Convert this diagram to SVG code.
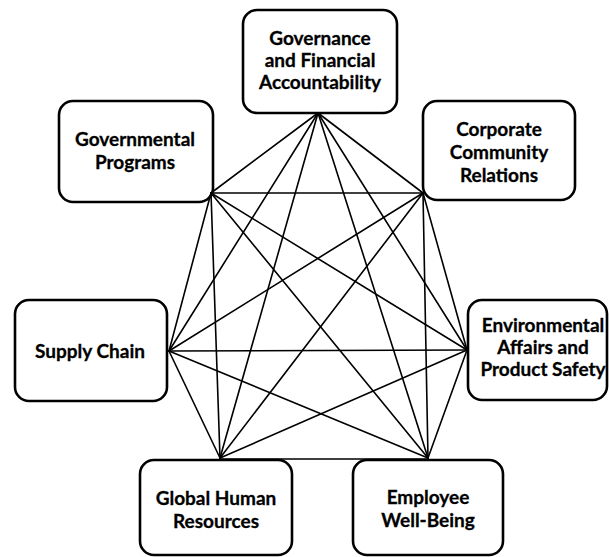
<svg xmlns="http://www.w3.org/2000/svg" width="609" height="557" viewBox="0 0 609 557">
  <style>
    .box { fill: #ffffff; stroke: #000000; stroke-width: 2.6; }
    .label { font-family: Lato, "Open Sans", sans-serif; font-weight: bold; font-size: 19px; fill: #000000; stroke: #000000; stroke-width: 0.3; text-anchor: middle; }
    .link { stroke: #000000; stroke-width: 1.6; fill: none; stroke-linecap: round; }
  </style>
  <rect x="0" y="0" width="609" height="557" fill="#ffffff"/>

  <!-- nodes -->
  <g id="governance">
    <rect class="box" x="243" y="10" width="154" height="103" rx="14"/>
    <text class="label" x="320" y="45">Governance</text>
    <text class="label" x="320" y="67">and Financial</text>
    <text class="label" x="320" y="89">Accountability</text>
  </g>
  <g id="governmental-programs">
    <rect class="box" x="59" y="101" width="154" height="101" rx="14"/>
    <text class="label" x="135" y="146">Governmental</text>
    <text class="label" x="135" y="169">Programs</text>
  </g>
  <g id="corporate-community">
    <rect class="box" x="423" y="101" width="152" height="99" rx="14"/>
    <text class="label" x="499" y="136">Corporate</text>
    <text class="label" x="499" y="159">Community</text>
    <text class="label" x="499" y="182">Relations</text>
  </g>
  <g id="supply-chain">
    <rect class="box" x="15" y="300" width="152" height="101" rx="14"/>
    <text class="label" x="90" y="358">Supply Chain</text>
  </g>
  <g id="environmental">
    <rect class="box" x="468" y="300" width="139" height="100" rx="14"/>
    <text class="label" x="543" y="332">Environmental</text>
    <text class="label" x="543" y="354">Affairs and</text>
    <text class="label" x="543" y="376">Product Safety</text>
  </g>
  <g id="global-hr">
    <rect class="box" x="140" y="460" width="152" height="95" rx="14"/>
    <text class="label" x="216" y="505">Global Human</text>
    <text class="label" x="216" y="528">Resources</text>
  </g>
  <g id="employee-wellbeing">
    <rect class="box" x="353" y="460" width="150" height="95" rx="14"/>
    <text class="label" x="428" y="504">Employee</text>
    <text class="label" x="428" y="527">Well-Being</text>
  </g>

  <!-- connectors: every node linked to every other -->
  <g id="connectors" class="link">
    <!-- from Governance (318,113) -->
    <line x1="318" y1="113" x2="211" y2="193"/>
    <line x1="318" y1="113" x2="423" y2="193"/>
    <line x1="318" y1="113" x2="169" y2="351"/>
    <line x1="318" y1="113" x2="467" y2="350"/>
    <line x1="318" y1="113" x2="220" y2="458"/>
    <line x1="318" y1="113" x2="428" y2="458"/>
    <!-- from Governmental Programs (211,193) -->
    <line x1="211" y1="193" x2="423" y2="193"/>
    <line x1="211" y1="193" x2="169" y2="351"/>
    <line x1="211" y1="193" x2="467" y2="350"/>
    <line x1="211" y1="193" x2="220" y2="458"/>
    <line x1="211" y1="193" x2="428" y2="458"/>
    <!-- from Corporate Community Relations (423,193) -->
    <line x1="423" y1="193" x2="169" y2="351"/>
    <line x1="423" y1="193" x2="467" y2="350"/>
    <line x1="423" y1="193" x2="220" y2="458"/>
    <line x1="423" y1="193" x2="428" y2="458"/>
    <!-- from Supply Chain (169,351) -->
    <line x1="169" y1="351" x2="467" y2="350"/>
    <line x1="169" y1="351" x2="220" y2="458"/>
    <line x1="169" y1="351" x2="428" y2="458"/>
    <!-- from Environmental Affairs (467,350) -->
    <line x1="467" y1="350" x2="220" y2="458"/>
    <line x1="467" y1="350" x2="428" y2="458"/>
    <!-- Global Human Resources to Employee Well-Being -->
    <line x1="220" y1="459" x2="428" y2="459"/>
  </g>
</svg>
